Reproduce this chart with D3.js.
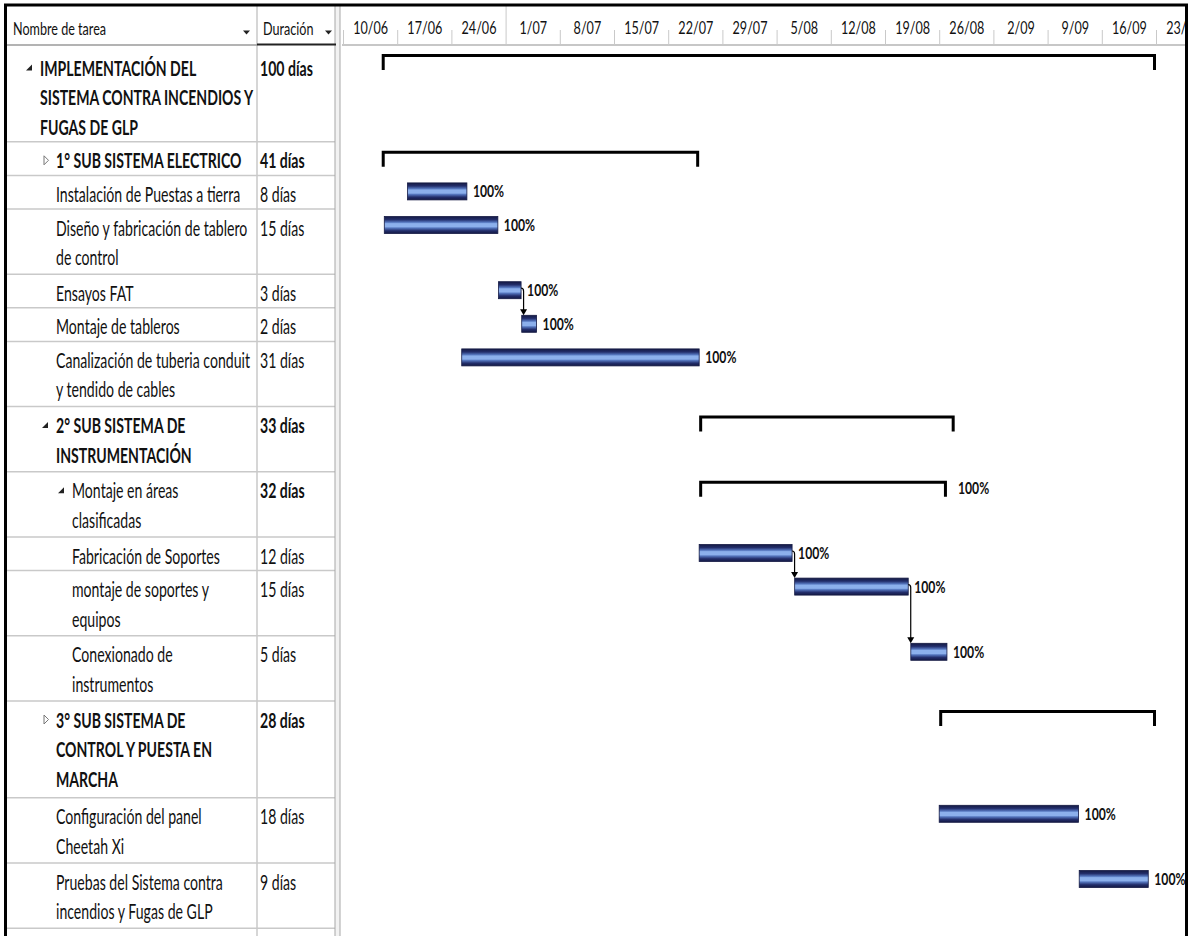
<!DOCTYPE html>
<html>
<head>
<meta charset="utf-8">
<script src="https://cdn.jsdelivr.net/npm/d3@7"></script>
<style>
  body { margin: 0; background: #fff; }
  svg text { font-family: Lato, "Liberation Sans", sans-serif; fill: #111; }
</style>
</head>
<body>
<div id="chart"></div>
<script>
// ---- data ----
var taskNames = [
  ["IMPLEMENTACIÓN DEL", "SISTEMA CONTRA INCENDIOS Y", "FUGAS DE GLP"],
  ["1° SUB SISTEMA ELECTRICO"],
  ["Instalación de Puestas a tierra"],
  ["Diseño y fabricación de tablero", "de control"],
  ["Ensayos FAT"],
  ["Montaje de tableros"],
  ["Canalización de tuberia conduit", "y tendido de cables"],
  ["2° SUB SISTEMA DE", "INSTRUMENTACIÓN"],
  ["Montaje en áreas", "clasificadas"],
  ["Fabricación de Soportes"],
  ["montaje de soportes y", "equipos"],
  ["Conexionado de", "instrumentos"],
  ["3° SUB SISTEMA DE", "CONTROL Y PUESTA EN", "MARCHA"],
  ["Configuración del panel", "Cheetah Xi"],
  ["Pruebas del Sistema contra", "incendios y Fugas de GLP"]
]
var durations = ["100 días", "41 días", "8 días", "15 días", "3 días", "2 días", "31 días",
  "33 días", "32 días", "12 días", "15 días", "5 días", "28 días", "18 días", "9 días"]
var outlineLevel = [0, 1, 2, 2, 2, 2, 2, 1, 2, 3, 3, 3, 1, 2, 2]
var isSummary = [1, 1, 0, 0, 0, 0, 0, 1, 1, 0, 0, 0, 1, 0, 0]
var collapsed = [0, 1, 0, 0, 0, 0, 0, 0, 0, 0, 0, 0, 1, 0, 0]
var boldName = [1, 1, 0, 0, 0, 0, 0, 1, 0, 0, 0, 0, 1, 0, 0]
var boldDur = [1, 1, 0, 0, 0, 0, 0, 1, 1, 0, 0, 0, 1, 0, 0]
var startDates = ["2019-06-15 00:00", "2019-06-15 00:00", "2019-06-18 08:00", "2019-06-15 08:00",
  "2019-06-30 02:00", "2019-07-03 02:00", "2019-06-25 08:00", "2019-07-26 00:00", "2019-07-26 00:00",
  "2019-07-26 00:00", "2019-08-07 08:00", "2019-08-22 08:00", "2019-08-26 00:00", "2019-08-26 00:00",
  "2019-09-13 02:00"]
var endDates = ["2019-09-23 00:00", "2019-07-26 00:00", "2019-06-26 00:00", "2019-06-30 00:00",
  "2019-07-03 00:00", "2019-07-05 00:00", "2019-07-26 00:00", "2019-08-28 00:00", "2019-08-27 00:00",
  "2019-08-07 00:00", "2019-08-22 00:00", "2019-08-27 00:00", "2019-09-23 00:00", "2019-09-13 00:00",
  "2019-09-22 00:00"]
var percentLabels = ["", "", "100%", "100%", "100%", "100%", "100%", "", "100%", "100%", "100%",
  "100%", "", "100%", "100%"]
var links = [[4, 5], [9, 10], [10, 11]]
var weekLabels = ["10/06", "17/06", "24/06", "1/07", "8/07", "15/07", "22/07", "29/07", "5/08",
  "12/08", "19/08", "26/08", "2/09", "9/09", "16/09", "23/09"]
var weekDates = ["2019-06-10", "2019-06-17", "2019-06-24", "2019-07-01", "2019-07-08", "2019-07-15",
  "2019-07-22", "2019-07-29", "2019-08-05", "2019-08-12", "2019-08-19", "2019-08-26", "2019-09-02",
  "2019-09-09", "2019-09-16", "2019-09-23"]

// ---- layout ----
var W = 1191, H = 936
var frameL = 5.5, frameT = 5, frameR = 1186.5
var colDur = 257, colSep = 335, chartL = 342, headB = 45
var lineH = 31.6, rowPad = 2

var parseT = d3.timeParse("%Y-%m-%d %H:%M")
var parseD = d3.timeParse("%Y-%m-%d")

var svg = d3.select("#chart")
  .append("svg")
    .attr("width", W)
    .attr("height", H)

// gradient for the task bars
var grad = svg.append("defs").append("linearGradient")
  .attr("id", "barGrad").attr("x1", 0).attr("y1", 0).attr("x2", 0).attr("y2", 1)
grad.selectAll("stop")
  .data([[0, "#141a44"], [0.18, "#222d6a"], [0.34, "#5475bd"], [0.42, "#8cb0ec"], [0.6, "#8cb0ec"],
         [0.68, "#5475bd"], [0.84, "#222d6a"], [1, "#141a44"]])
  .enter().append("stop")
    .attr("offset", function(d) { return d[0] })
    .attr("stop-color", function(d) { return d[1] })

svg.select("defs").append("clipPath").attr("id", "chartClip")
  .append("rect").attr("x", chartL).attr("y", 0).attr("width", frameR - chartL - 1.5).attr("height", H)

// row tops
var rowTop = [], yy = headB
taskNames.forEach(function(n) { rowTop.push(yy); yy += n.length * lineH + rowPad })
rowTop.push(yy)

// x scale: time
var x = d3.scaleTime()
  .domain([parseD("2019-06-10"), parseD("2019-09-23")])
  .range([343, 1156])
var weekW = x(parseD("2019-06-17")) - x(parseD("2019-06-10"))

// text with the vertical stretch of the screenshot
function label(g, tx, ty, txt, size, sy, weight) {
  return g.append("text")
    .attr("transform", "translate(" + tx + "," + ty + ") scale(1," + sy + ")")
    .style("font-size", size + "px")
    .style("font-weight", weight || 400)
    .text(txt)
}

// ----------------- //
// Table
// ----------------- //
var table = svg.append("g")

// row separators
table.selectAll("line.row")
  .data(rowTop.slice(1))
  .enter().append("line")
    .attr("x1", frameL).attr("x2", colSep)
    .attr("y1", function(d) { return d }).attr("y2", function(d) { return d })
    .attr("stroke", "#c9c9c9").attr("stroke-width", 1.5)

// column lines
table.append("line").attr("x1", colDur).attr("x2", colDur).attr("y1", frameT).attr("y2", H)
  .attr("stroke", "#c9c9c9").attr("stroke-width", 1.5)
table.append("rect").attr("x", colSep).attr("y", frameT).attr("width", 5).attr("height", H)
  .attr("fill", "#f2f2f2").attr("stroke", "#a8a8a8").attr("stroke-width", 1)

// header
table.append("line").attr("x1", frameL).attr("x2", colDur).attr("y1", headB).attr("y2", headB)
  .attr("stroke", "#9a9a9a").attr("stroke-width", 1.5)
table.append("line").attr("x1", colDur).attr("x2", colSep + 1).attr("y1", headB - 0.5).attr("y2", headB - 0.5)
  .attr("stroke", "#222").attr("stroke-width", 2.2)
label(table, 13, 34.5, "Nombre de tarea", 12.6, 1.4)
label(table, 263, 34.5, "Duración", 12.6, 1.4)
;[243, 325].forEach(function(px) {
  table.append("path").attr("d", "M" + px + ",30.5 h7 l-3.5,4 z").attr("fill", "#222")
})

// names, durations, outline icons
taskNames.forEach(function(lines, i) {
  var top = rowTop[i]
  var tx = isSummary[i] ? 40 + 16 * outlineLevel[i] : 24 + 16 * outlineLevel[i]
  var first = i === 0 ? 4 : 0
  lines.forEach(function(t, k) {
    label(table, tx, top + 26.5 + first + k * 29.5, t, 14.1, 1.5, boldName[i] ? 700 : 400)
  })
  label(table, 260, top + 26.5 + first, durations[i], 14.1, 1.5, boldDur[i] ? 700 : 400)

  if (isSummary[i]) {
    var cx = tx - 11, cy = top + 18.5 + first
    if (collapsed[i]) {
      table.append("path").attr("d", "M" + (cx - 1) + "," + (cy - 4.5) + " l4.5,4.5 l-4.5,4.5 z")
        .attr("fill", "#fff").attr("stroke", "#777").attr("stroke-width", 1)
    } else {
      table.append("path").attr("d", "M" + (cx + 3) + "," + (cy - 3) + " v6 h-6 z").attr("fill", "#222")
    }
  }
})

// ----------------- //
// Timeline header
// ----------------- //
var chart = svg.append("g").attr("clip-path", "url(#chartClip)")

chart.append("line").attr("x1", chartL).attr("x2", frameR).attr("y1", headB).attr("y2", headB)
  .attr("stroke", "#b5b5b5").attr("stroke-width", 1.5)

var axis = chart.append("g")
  .attr("transform", "translate(0,30)")
  .call(d3.axisBottom(x)
    .tickValues(weekDates.map(parseD))
    .tickFormat(function(d, i) { return weekLabels[i] })
    .tickSize(15))
axis.select(".domain").remove()
axis.selectAll(".tick line")
  .attr("stroke", "#c9c9c9")
  .attr("y1", function(d) { return d.getDate() === 1 ? -25 : 0 })
axis.selectAll(".tick text")
  .attr("y", null).attr("dy", null)
  .attr("text-anchor", "middle")
  .attr("transform", "translate(" + (weekW / 2) + ",3.5) scale(1,1.4)")
  .style("font-size", "12.6px")
  .style("fill", "#111")

// ----------------- //
// Bars
// ----------------- //
var rows = d3.range(taskNames.length)

// summary brackets
chart.selectAll("path.summary")
  .data(rows.filter(function(i) { return isSummary[i] }))
  .enter().append("path")
    .attr("d", function(i) {
      var x0 = x(parseT(startDates[i])) + 1.5, x1 = x(parseT(endDates[i])) - 1.5, t = rowTop[i]
      return "M" + x0 + "," + (t + 25) + " V" + (t + 10.5) + " H" + x1 + " V" + (t + 25)
    })
    .attr("fill", "none")
    .attr("stroke", "#000")
    .attr("stroke-width", 3)

// task bars
chart.selectAll("rect.task")
  .data(rows.filter(function(i) { return !isSummary[i] }))
  .enter().append("rect")
    .attr("x", function(i) { return x(parseT(startDates[i])) })
    .attr("y", function(i) { return rowTop[i] + 7.5 })
    .attr("width", function(i) { return x(parseT(endDates[i])) - x(parseT(startDates[i])) })
    .attr("height", 17)
    .attr("fill", "url(#barGrad)")
    .attr("stroke", "#141a44")
    .attr("stroke-width", 0.8)

// percent labels
rows.forEach(function(i) {
  if (!percentLabels[i]) return
  var ex = x(parseT(endDates[i])) + (isSummary[i] ? 11 : 6)
  label(chart, ex, rowTop[i] + 16 + 6, percentLabels[i], 12.2, 1.4, 700)
})

// dependency arrows
links.forEach(function(l) {
  var a = l[0], b = l[1]
  var ex = x(parseT(endDates[a])), cy = rowTop[a] + 14
  var vx = ex + 2.5, ty = rowTop[b] + 7.5
  chart.append("path")
    .attr("d", "M" + ex + "," + cy + " q" + 2.5 + ",0 " + 2.5 + ",3 V" + (ty - 5))
    .attr("fill", "none").attr("stroke", "#000").attr("stroke-width", 1.2)
  chart.append("path")
    .attr("d", "M" + (vx - 3.5) + "," + (ty - 6) + " h7 l-3.5,6 z")
    .attr("fill", "#000")
})

// outer frame
svg.append("path")
  .attr("d", "M" + frameL + "," + H + " V" + frameT + " H" + frameR + " V" + H)
  .attr("fill", "none").attr("stroke", "#000").attr("stroke-width", 3)
</script>
</body>
</html>
